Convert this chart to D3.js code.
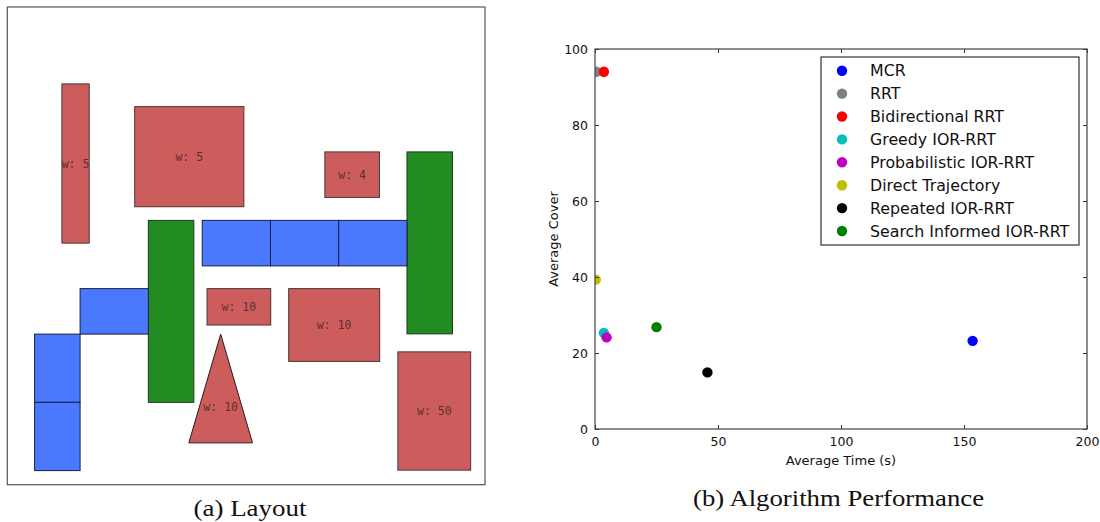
<html>
<head>
<meta charset="utf-8">
<script src="https://d3js.org/d3.v7.min.js"></script>
<style>
  body { margin: 0; background: #fff; }
  svg { display: block; }
</style>
</head>
<body>
<svg id="figure" width="1100" height="522"></svg>

<script>
// ---- layout panel (a): obstacles in grid units (x, y, w, h), 21 x 21 field
var redBlocks = [[2.4, 3.38, 1.2, 7], [5.6, 4.38, 4.8, 4.4], [13.96, 6.37, 2.4, 2],
                 [8.78, 12.38, 2.8, 1.6], [12.37, 12.38, 4, 3.2], [17.17, 15.16, 3.2, 5.2]];
var redWeights = ["w: 5", "w: 5", "w: 4", "w: 10", "w: 10", "w: 50"];
var triangle = [[9.38, 14.38], [10.78, 19.16], [7.98, 19.16]];
var triangleWeight = "w: 10";
var greenBlocks = [[17.57, 6.37, 2, 8], [6.2, 9.38, 2, 8]];
var blueCells = [[8.57, 9.38, 3, 2], [11.57, 9.38, 3, 2], [14.57, 9.38, 3, 2],
                 [3.2, 12.38, 3, 2], [1.2, 14.38, 2, 3], [1.2, 17.38, 2, 3]];

// ---- performance panel (b)
var algorithms = ["MCR", "RRT", "Bidirectional RRT", "Greedy IOR-RRT", "Probabilistic IOR-RRT",
                  "Direct Trajectory", "Repeated IOR-RRT", "Search Informed IOR-RRT"];
var avgTime  = [153.5, 0.5, 3.6, 3.6, 4.7, 0.3, 45.7, 25.0];
var avgCover = [23.2, 94.0, 94.0, 25.3, 24.1, 39.3, 14.9, 26.8];
var algColors = ["#0000ff", "#808080", "#ff0000", "#00bfbf", "#bf00bf", "#bfbf00", "#000000", "#008000"];
var xTicks = [0, 50, 100, 150, 200];
var yTicks = [0, 20, 40, 60, 80, 100];

var svg = d3.select("#figure");

// ===================== (a) Layout =====================
var gx = d3.scaleLinear().domain([0, 21]).range([7.3, 485]);
var gy = d3.scaleLinear().domain([0, 21]).range([7, 484.7]);

var left = svg.append("g");

left.append("rect")
    .attr("x", gx(0)).attr("y", gy(0))
    .attr("width", gx(21) - gx(0)).attr("height", gy(21) - gy(0))
    .attr("fill", "none").attr("stroke", "#555").attr("stroke-width", 1.2);

function drawBlocks(list, fill, stroke) {
  left.selectAll(null)
    .data(list)
    .enter().append("rect")
    .attr("x", function(d) { return gx(d[0]); })
    .attr("y", function(d) { return gy(d[1]); })
    .attr("width", function(d) { return gx(d[0] + d[2]) - gx(d[0]); })
    .attr("height", function(d) { return gy(d[1] + d[3]) - gy(d[1]); })
    .attr("fill", fill)
    .attr("stroke", stroke)
    .attr("stroke-width", 1);
}

drawBlocks(redBlocks, "#cd5c5c", "#4a3535");
drawBlocks(greenBlocks, "#228b22", "#1f3a1f");
drawBlocks(blueCells, "#4a78ff", "#1a2040");

left.append("polygon")
    .attr("points", triangle.map(function(p) { return gx(p[0]) + "," + gy(p[1]); }).join(" "))
    .attr("fill", "#cd5c5c").attr("stroke", "#2a1c1c").attr("stroke-width", 1);

var labelStyle = function(sel) {
  sel.attr("text-anchor", "middle")
     .attr("dominant-baseline", "central")
     .style("font-family", "'DejaVu Sans Mono', monospace")
     .style("font-size", "11.5px")
     .style("fill", "#3a2424")
     .style("fill-opacity", 0.8);
};

left.selectAll(".wlabel")
    .data(redBlocks)
    .enter().append("text")
    .attr("class", "wlabel")
    .attr("x", function(d) { return gx(d[0] + d[2] / 2); })
    .attr("y", function(d) { return gy(d[1] + d[3] / 2); })
    .text(function(d, i) { return redWeights[i]; })
    .call(labelStyle);

left.append("text")
    .attr("x", gx(d3.mean(triangle, function(p) { return p[0]; })))
    .attr("y", gy(d3.mean(triangle, function(p) { return p[1]; })))
    .text(triangleWeight)
    .call(labelStyle);

left.append("text")
    .attr("x", 250).attr("y", 516)
    .attr("text-anchor", "middle")
    .attr("textLength", 113).attr("lengthAdjust", "spacingAndGlyphs")
    .style("font-family", "'Liberation Serif', serif")
    .style("font-size", "23px")
    .style("fill", "#111")
    .text("(a) Layout");

// ===================== (b) Algorithm Performance =====================
var pLeft = 595, pRight = 1087, pTop = 49, pBottom = 429;

var x = d3.scaleLinear().domain([0, 200]).range([pLeft, pRight]);
var y = d3.scaleLinear().domain([0, 100]).range([pBottom, pTop]);
var color = d3.scaleOrdinal(algorithms, algColors);

var right = svg.append("g");

right.append("clipPath").attr("id", "plotClip")
    .append("rect")
    .attr("x", pLeft).attr("y", pTop)
    .attr("width", pRight - pLeft).attr("height", pBottom - pTop);

var points = algorithms.map(function(name, i) {
  return { name: name, time: avgTime[i], cover: avgCover[i] };
});

right.append("g")
    .attr("clip-path", "url(#plotClip)")
    .selectAll("circle")
    .data(points)
    .enter().append("circle")
    .attr("cx", function(d) { return x(d.time); })
    .attr("cy", function(d) { return y(d.cover); })
    .attr("r", 5.2)
    .attr("fill", function(d) { return color(d.name); });

// matplotlib-classic style: ticks inward on all four sides
var tickFont = function(g) {
  g.selectAll("text")
    .style("font-family", "'DejaVu Sans', sans-serif")
    .style("font-size", "12.5px")
    .style("fill", "#111");
  g.select(".domain").remove();
  g.selectAll("line").attr("stroke", "#333");
};

right.append("g")
    .attr("transform", "translate(0," + pBottom + ")")
    .call(d3.axisBottom(x).tickValues(xTicks).tickSize(-4).tickPadding(8))
    .call(tickFont);

right.append("g")
    .attr("transform", "translate(0," + pTop + ")")
    .call(d3.axisTop(x).tickValues(xTicks).tickSize(-4).tickFormat(""))
    .call(tickFont);

right.append("g")
    .attr("transform", "translate(" + pLeft + ",0)")
    .call(d3.axisLeft(y).tickValues(yTicks).tickSize(-4).tickPadding(7))
    .call(tickFont);

right.append("g")
    .attr("transform", "translate(" + pRight + ",0)")
    .call(d3.axisRight(y).tickValues(yTicks).tickSize(-4).tickFormat(""))
    .call(tickFont);

right.append("rect")
    .attr("x", pLeft).attr("y", pTop)
    .attr("width", pRight - pLeft).attr("height", pBottom - pTop)
    .attr("fill", "none").attr("stroke", "#444").attr("stroke-width", 1.2);

right.append("text")
    .attr("x", (pLeft + pRight) / 2).attr("y", 465)
    .attr("text-anchor", "middle")
    .style("font-family", "'DejaVu Sans', sans-serif")
    .style("font-size", "13px")
    .style("fill", "#111")
    .text("Average Time (s)");

right.append("text")
    .attr("transform", "translate(558," + (pTop + pBottom) / 2 + ") rotate(-90)")
    .attr("text-anchor", "middle")
    .style("font-family", "'DejaVu Sans', sans-serif")
    .style("font-size", "13px")
    .style("fill", "#111")
    .text("Average Cover");

// legend
var legend = right.append("g");
legend.append("rect")
    .attr("x", 821).attr("y", 57)
    .attr("width", 258).attr("height", 188)
    .attr("fill", "#fff").attr("stroke", "#333").attr("stroke-width", 1.2);

var rowY = d3.scalePoint().domain(algorithms).range([70.7, 231]);

var rows = legend.selectAll(".row")
    .data(algorithms)
    .enter().append("g")
    .attr("transform", function(d) { return "translate(0," + rowY(d) + ")"; });

rows.append("circle")
    .attr("cx", 842).attr("cy", 0).attr("r", 5.2)
    .attr("fill", function(d) { return color(d); });

rows.append("text")
    .attr("x", 870).attr("y", 0)
    .attr("dominant-baseline", "central")
    .style("font-family", "'DejaVu Sans', sans-serif")
    .style("font-size", "15.8px")
    .style("fill", "#111")
    .text(function(d) { return d; });

right.append("text")
    .attr("x", 838.5).attr("y", 506)
    .attr("text-anchor", "middle")
    .attr("textLength", 291).attr("lengthAdjust", "spacingAndGlyphs")
    .style("font-family", "'Liberation Serif', serif")
    .style("font-size", "23px")
    .style("fill", "#111")
    .text("(b) Algorithm Performance");
</script>
</body>
</html>
